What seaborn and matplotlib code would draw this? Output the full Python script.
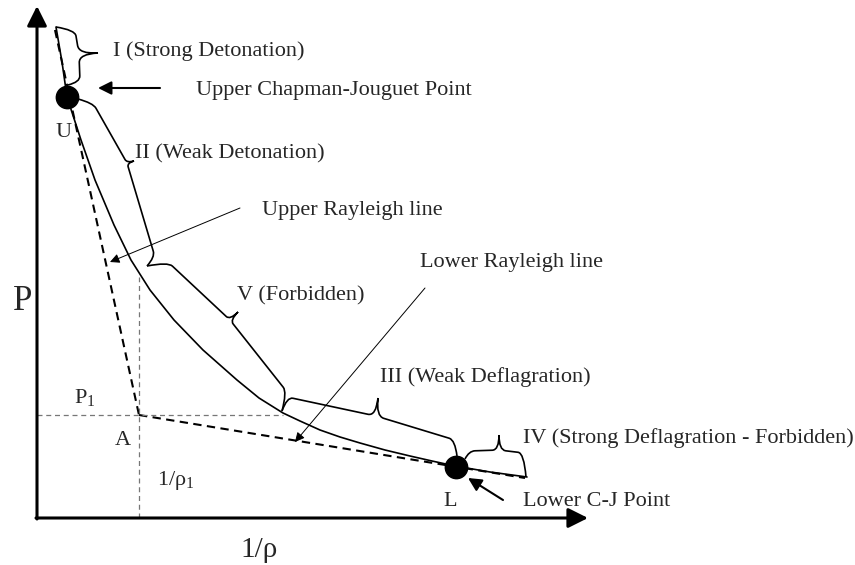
import numpy as np
import matplotlib
matplotlib.use("Agg")
import matplotlib.pyplot as plt
from matplotlib.path import Path
from matplotlib.patches import PathPatch
import seaborn as sns

# 1. THE DIAGRAM DATA (in pixel units, y downwards)
# Hugoniot curve
curve_x = [56, 62, 67, 81, 95, 114, 131, 150, 174, 203, 237, 259, 283, 300, 320, 340, 360,
           385, 410, 432, 455, 490, 527]
curve_y = [27, 62, 97, 140, 180, 225, 260, 290, 320, 350, 380, 398, 413, 421, 430, 437, 443,
           450, 456, 461, 466, 472, 477]

# Rayleigh lines (upper: through U, lower: through L), both from point A
upper_rayleigh_x = [55, 139]
upper_rayleigh_y = [30, 415]
lower_rayleigh_x = [139, 525]
lower_rayleigh_y = [415, 478]

# Chapman-Jouguet points
cj_names = ["U", "L"]
cj_x = [67, 456]
cj_y = [97, 467]

# initial state A = (1/rho1, P1)
state_a = (139, 415)

# region labels and the braces that mark them: (start, bar start, tip base, tip, bar end, end)
region_labels = ["I (Strong Detonation)", "II (Weak Detonation)", "V (Forbidden)",
                 "III (Weak Deflagration)", "IV (Strong Deflagration - Forbidden)"]
braces = [
    [(56, 27), (75, 30), (79, 54), (98, 53), (80, 82), (68, 85)],
    [(78, 99), (93, 103), (127, 163), (134, 161), (155, 257), (147, 266)],
    [(147, 266), (168, 262), (230, 320), (238, 312), (287, 392), (282, 411)],
    [(282, 411), (287, 397), (376, 416), (378, 398), (455, 440), (457, 456)],
    [(465, 459), (469, 451), (499, 450), (499, 435), (524, 453), (526, 477)],
]

# 2. STYLE
sns.set_theme(style="white")
plt.rcParams["font.family"] = ["Liberation Serif", "DejaVu Serif"]
plt.rcParams["mathtext.fontset"] = "custom"
plt.rcParams["mathtext.rm"] = "Liberation Serif"

fig = plt.figure(figsize=(8.55, 5.65), dpi=100)
ax = fig.add_axes([0, 0, 1, 1])

# 3. DRAW
# Hugoniot curve
sns.lineplot(x=curve_x, y=curve_y, sort=False, estimator=None, color="black", lw=1.2, ax=ax)

# Rayleigh lines
ax.plot(upper_rayleigh_x, upper_rayleigh_y, color="black", lw=1.5, ls=(0, (4, 2.6)))
ax.plot(lower_rayleigh_x, lower_rayleigh_y, color="black", lw=1.5, ls=(0, (4, 2.6)))

# thin gray guides to the axes
ax.plot([37, 283], [state_a[1], state_a[1]], color="#777777", lw=0.9, ls=(0, (4, 3)))
ax.plot([state_a[0], state_a[0]], [518, 277], color="#777777", lw=0.9, ls=(0, (4, 3)))

# axes with arrow heads
arrow_axis = dict(arrowstyle="-|>", lw=2.2, color="black", mutation_scale=30, shrinkA=0, shrinkB=0)
ax.annotate("", xy=(37, 6), xytext=(37, 519), arrowprops=arrow_axis)
ax.annotate("", xy=(588, 518), xytext=(36, 518), arrowprops=arrow_axis)

# C-J points
ax.scatter(cj_x, cj_y, s=260, color="black", zorder=5)

# braces
def brace(pts, lw=1.2):
    p0, b0, m, t, b1, p1 = [np.asarray(p, dtype=float) for p in pts]
    u1 = (m - b0) / np.linalg.norm(m - b0)
    u2 = (b1 - m) / np.linalg.norm(b1 - m)
    rt = max(4.0, 0.45 * np.linalg.norm(t - m))
    re = 6.0
    verts = [p0, b0, b0 + u1 * re, m - u1 * rt, m, t, m, m + u2 * rt, b1 - u2 * re, b1, p1]
    codes = [Path.MOVETO, Path.CURVE3, Path.CURVE3, Path.LINETO, Path.CURVE3, Path.CURVE3,
             Path.CURVE3, Path.CURVE3, Path.LINETO, Path.CURVE3, Path.CURVE3]
    ax.add_patch(PathPatch(Path(verts, codes), fill=False, lw=lw, color="black"))

for b in braces:
    brace(b)

# pointers
thin = dict(arrowstyle="-|>", lw=0.7, color="black", mutation_scale=14, shrinkA=0, shrinkB=0)
ax.annotate("", xy=(110, 262), xytext=(240, 208), arrowprops=thin)
ax.annotate("", xy=(295, 442), xytext=(425, 288), arrowprops=thin)
thick = dict(arrowstyle="-|>", lw=1.5, color="black", mutation_scale=20, shrinkA=0, shrinkB=0)
ax.annotate("", xy=(98, 88), xytext=(160, 88), arrowprops=thick)
ax.annotate("", xy=(468, 478), xytext=(503, 500), arrowprops=thick)

# 4. TEXT
fs = 16
ax.text(113, 56, region_labels[0], fontsize=fs, va="baseline")
ax.text(135, 158, region_labels[1], fontsize=fs, va="baseline")
ax.text(237, 300, region_labels[2], fontsize=fs, va="baseline")
ax.text(380, 382, region_labels[3], fontsize=fs, va="baseline")
ax.text(523, 443, region_labels[4], fontsize=fs, va="baseline")
ax.text(196, 95, "Upper Chapman-Jouguet Point", fontsize=fs, va="baseline")
ax.text(262, 215, "Upper Rayleigh line", fontsize=fs, va="baseline")
ax.text(420, 267, "Lower Rayleigh line", fontsize=fs, va="baseline")
ax.text(523, 506, "Lower C-J Point", fontsize=fs, va="baseline")
ax.text(55, 137, cj_names[0], fontsize=fs, va="baseline")
ax.text(443, 506, cj_names[1], fontsize=fs, va="baseline")
ax.text(115, 445, "A", fontsize=fs, va="baseline")
ax.text(74, 403, r"P$_\mathregular{1}$", fontsize=fs, va="baseline")
ax.text(157, 485, r"1/ρ$_\mathregular{1}$", fontsize=fs, va="baseline")
ax.text(13, 310, "P", fontsize=25, va="baseline")
ax.text(240, 557, "1/ρ", fontsize=21, va="baseline")

ax.set_xlim(0, 855)
ax.set_ylim(565, 0)
ax.axis("off")

plt.savefig("out.png", dpi=100)
